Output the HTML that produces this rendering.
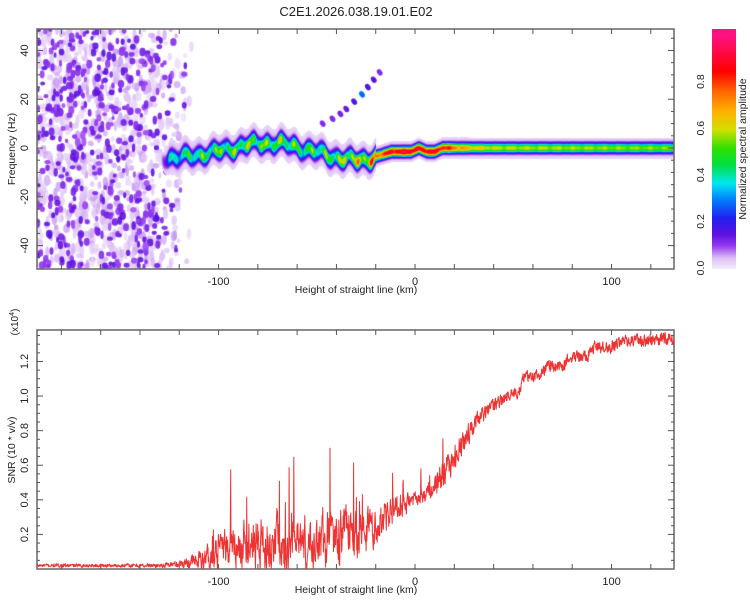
<!DOCTYPE html>
<html><head><meta charset="utf-8">
<style>
html,body{margin:0;padding:0;background:#fff;width:750px;height:600px;overflow:hidden;font-family:"Liberation Sans",sans-serif}
#wrap{position:relative;width:750px;height:600px}
canvas{position:absolute}
svg{position:absolute;left:0;top:0}
</style></head>
<body>
<div id="wrap">
<canvas id="spec" width="637" height="240" style="left:37px;top:29px"></canvas>
<canvas id="cbar" width="24" height="240" style="left:712px;top:29px"></canvas>
<svg id="svg" width="750" height="600"></svg>
</div>
<script>
// ---- data ----
const ridgeKm   = [-128,-120,-112,-105,-98,-90,-84,-78,-72,-66,-60,-54,-48,-42,-36,-30,-24,-18,-12,-6,-2,2,6,10,14,20,30,40,80,131];
const ridgeHz   = [-4,-4,-3,-2,-1,0.5,1.5,2,2,1.5,0.5,-1,-2,-3.5,-4.5,-5,-4.5,-3,-1.5,-1.5,-1.5,0,-1.5,-1.5,0,0,0,0,0,0];
const ridgeAmp  = [0.25,0.35,0.4,0.42,0.45,0.45,0.47,0.45,0.47,0.45,0.43,0.42,0.42,0.45,0.5,0.55,0.6,0.72,0.82,0.85,0.88,0.8,0.86,0.82,0.8,0.7,0.58,0.54,0.52,0.5];
const streakKm  = [-47,-42,-38,-35,-31,-27,-24,-21,-18];
const streakHz  = [10,12,14,16,19,22,25,28,31];
const streakAmp = [0.12,0.12,0.13,0.14,0.17,0.28,0.17,0.15,0.12];
const snrKm  = [-192,-160,-130,-120,-110,-105,-100,-95,-90,-85,-80,-75,-70,-65,-60,-50,-40,-30,-19,-8,0,8,13,21,31,42,47,53,55,63,67,75,79,88,91,100,103,115,131];
const snrVal = [0.02,0.02,0.02,0.03,0.05,0.07,0.1,0.11,0.12,0.14,0.16,0.14,0.13,0.11,0.11,0.15,0.18,0.22,0.27,0.36,0.39,0.45,0.53,0.65,0.86,0.96,1.0,1.02,1.11,1.12,1.17,1.17,1.23,1.23,1.28,1.28,1.31,1.32,1.33];
const snrNoise=[0.01,0.01,0.012,0.02,0.05,0.08,0.1,0.12,0.14,0.15,0.16,0.16,0.16,0.15,0.15,0.15,0.16,0.14,0.12,0.07,0.04,0.06,0.08,0.08,0.05,0.035,0.035,0.035,0.035,0.035,0.035,0.035,0.035,0.035,0.035,0.035,0.035,0.035,0.035];
const xTicks=[-100,0,100];
const fTicks=[-40,-20,0,20,40];
const sTicks=[0.2,0.4,0.6,0.8,1.0,1.2];
const cTicks=[0.0,0.2,0.4,0.6,0.8];

// ---- scales ----
const X0=37,X1=674,xMin=-192.4,xMax=131.8;
const T0=29,T1=269,fMin=-49.6,fMax=48.8;
const B0=330,B1=569,sMin=0,sMax=1.382;
const xs=v=>X0+(v-xMin)/(xMax-xMin)*(X1-X0);
const fy=v=>T1-(v-fMin)/(fMax-fMin)*(T1-T0);
const sy=v=>B1-(v-sMin)/(sMax-sMin)*(B1-B0);
function interp(xa,ya,x){if(x<=xa[0])return ya[0];for(let i=1;i<xa.length;i++){if(x<=xa[i]){const t=(x-xa[i-1])/(xa[i]-xa[i-1]);return ya[i-1]+t*(ya[i]-ya[i-1]);}}return ya[ya.length-1];}
let seed=12345;function rnd(){seed=(seed*1664525+1013904223)>>>0;return seed/4294967296;}

const stops=[[0,[246,240,252]],[0.05,[220,190,246]],[0.1,[150,60,240]],[0.15,[96,16,224]],[0.22,[32,32,240]],[0.3,[0,128,255]],[0.37,[0,232,240]],[0.45,[0,224,64]],[0.52,[48,224,0]],[0.6,[210,224,0]],[0.68,[255,176,0]],[0.77,[255,96,0]],[0.85,[255,0,0]],[1.0,[255,16,128]]];
function cmap(v){v=Math.max(0,Math.min(1,v));for(let i=1;i<stops.length;i++){if(v<=stops[i][0]){const a=stops[i-1],b=stops[i],t=(v-a[0])/(b[0]-a[0]);return a[1].map((c,k)=>Math.round(c+t*(b[1][k]-c)));}}return stops[stops.length-1][1];}

// ---- spectrogram ----
const sc=document.getElementById('spec').getContext('2d');
for(let pass=0;pass<2;pass++){
 const N=pass==0?1000:500;
 for(let i=0;i<N;i++){
  const km=xMin+rnd()*((-112)-xMin);
  const fade=km<-135?1:Math.max(0,1-(km+135)/22);
  if(rnd()>fade)continue;
  const hz=fMin+rnd()*(fMax-fMin);
  if(pass==0){
    const c=cmap(0.02+rnd()*0.05);
    sc.fillStyle=`rgba(${c[0]},${c[1]},${c[2]},0.75)`;
    sc.beginPath();sc.ellipse(xs(km)-X0,fy(hz)-T0,1.5+rnd()*2,2+rnd()*4,0,0,Math.PI*2);sc.fill();
  }else{
    const c=cmap(0.09+rnd()*0.07);
    sc.fillStyle=`rgba(${c[0]},${c[1]},${c[2]},0.9)`;
    sc.beginPath();sc.ellipse(xs(km)-X0,fy(hz)-T0,1.5+rnd()*1.8,2+rnd()*2.5,0,0,Math.PI*2);sc.fill();
  }
 }
}
for(let i=0;i<streakKm.length;i++){
  const c=cmap(streakAmp[i]);sc.fillStyle=`rgb(${c})`;
  sc.beginPath();sc.ellipse(xs(streakKm[i])-X0,fy(streakHz[i])-T0,2.5,3.5,-0.6,0,Math.PI*2);sc.fill();
}
// ridge
const off=document.createElement('canvas');off.width=637;off.height=240;
const oc=off.getContext('2d');const img=oc.createImageData(637,240);
for(let px=0;px<637;px++){
  const km=xMin+(px+0.5)/637*(xMax-xMin);
  if(km<-130)continue;
  const c0=interp(ridgeKm,ridgeHz,km);
  let A=interp(ridgeKm,ridgeAmp,km);
  const early=km<-20;
  const sig=early?2.8:1.9;
  const jig=early?1.2*Math.sin(km*0.9)+0.8*Math.sin(km*0.37+1):0;
  const mod=1+(early?0.22:0.05)*Math.sin(km*0.8)+(early?0.14:0.03)*Math.sin(km*1.9);
  const start=km<-125?Math.max(0,(km+130)/5):1;
  for(let py=0;py<240;py++){
    const hz=fMax-(py+0.5)/240*(fMax-fMin);
    const d=hz-c0-jig;
    let v=A*mod*start*Math.exp(-Math.pow(Math.abs(d)/sig,2.4))+0.055*start*Math.exp(-Math.pow(d/(early?8:4.8),2));
    if(v<0.025)continue;
    const col=cmap(v),k=(py*637+px)*4;
    img.data[k]=col[0];img.data[k+1]=col[1];img.data[k+2]=col[2];img.data[k+3]=255;
  }
}
oc.putImageData(img,0,0);sc.drawImage(off,0,0);

// colorbar
const cb=document.getElementById('cbar').getContext('2d');
for(let py=0;py<240;py++){const v=(269-(T0+py))/233;const c=cmap(v);cb.fillStyle=`rgb(${c})`;cb.fillRect(0,py,24,1);}

// ---- SVG ----
const NS='http://www.w3.org/2000/svg',svg=document.getElementById('svg');
function el(t,a,p){const e=document.createElementNS(NS,t);for(const k in a)e.setAttribute(k,a[k]);(p||svg).appendChild(e);return e;}
function txt(s,x,y,a){const e=el('text',Object.assign({x:x,y:y,'font-size':11,fill:'#222','font-family':'Liberation Sans, sans-serif'},a||{}));e.textContent=s;return e;}

let t=txt('C2E1.2026.038.19.01.E02',356,16,{'font-size':13,'text-anchor':'middle'});


function frame(y0,y1,name){
  const g=el('g',{});
  el('rect',{x:X0,y:y0,width:X1-X0,height:y1-y0,fill:'none',stroke:'#666','stroke-width':1.5},g);
  for(let v=-180;v<=120;v+=20){const x=xs(v);el('line',{x1:x,x2:x,y1:y1,y2:y1-5,stroke:'#555'},g);el('line',{x1:x,x2:x,y1:y0,y2:y0+5,stroke:'#555'},g);}
  return g;
}
const gt=frame(T0,T1,'top-plot-frame');
for(let v=-45;v<=45;v+=5){const y=fy(v),L=v%20==0?6:3;el('line',{x1:X0,x2:X0+L,y1:y,y2:y,stroke:'#555'},gt);el('line',{x1:X1,x2:X1-L,y1:y,y2:y,stroke:'#555'},gt);}
fTicks.forEach(v=>{const e=txt(String(v),28,fy(v),{'text-anchor':'middle',transform:`rotate(-90 28 ${fy(v)})`});});
const gb=frame(B0,B1,'bottom-plot-frame');
for(let v=0.05;v<1.38;v+=0.05){const y=sy(v),L=Math.abs(v*5-Math.round(v*5))<0.01?6:3;el('line',{x1:X0,x2:X0+L,y1:y,y2:y,stroke:'#555'},gb);el('line',{x1:X1,x2:X1-L,y1:y,y2:y,stroke:'#555'},gb);}
sTicks.forEach(v=>{const e=txt(v.toFixed(1),28,sy(v),{'text-anchor':'middle',transform:`rotate(-90 28 ${sy(v)})`});});
xTicks.forEach(v=>{[285,585].forEach(y=>{const e=txt(String(v),xs(v),y,{'text-anchor':'middle'});});});
[293,593].forEach(y=>{const e=txt('Height of straight line (km)',356,y,{'text-anchor':'middle','font-size':10.5});});
t=txt('Frequency (Hz)',15,149,{'text-anchor':'middle','font-size':10.5,transform:'rotate(-90 15 149)'});
t=txt('SNR (10 * v/v)',15,450,{'text-anchor':'middle','font-size':10.5,transform:'rotate(-90 15 450)'});
t=el('text',{x:18,y:322,'font-size':10,fill:'#222','text-anchor':'middle','font-family':'Liberation Sans, sans-serif',transform:'rotate(-90 18 322)'});t.innerHTML='(x10<tspan font-size="7" dy="-4">4</tspan><tspan dy="4">)</tspan>';


const cbY=v=>268-v*233;
cTicks.forEach(v=>{const e=txt(v.toFixed(1),704,cbY(v),{'text-anchor':'middle','font-size':10.5,transform:`rotate(-90 704 ${cbY(v)})`});});
t=txt('Normalized spectral amplitude',746,149,{'text-anchor':'middle','font-size':10.5,transform:'rotate(-90 746 149)'});

// SNR line (jitter texture around data envelope)
let d='';seed=777;let prev=0;
for(let km=xMin;km<=xMax;km+=0.16){
  const base=interp(snrKm,snrVal,km),na=interp(snrKm,snrNoise,km);
  const r=(rnd()-0.5)*2;
  prev=(km>-110&&km<10)?0.6*prev+0.8*r:0.3*prev+0.9*r;
  let n=prev*na;
  if(km>-110&&km<15&&rnd()<0.02)n+=na*(1.0+rnd()*2.0);
  const v=Math.max(0.003,base+n);
  d+=(d?'L':'M')+xs(km).toFixed(1)+','+sy(v).toFixed(1);
}
const line=el('path',{d:d,fill:'none',stroke:'#ee3333','stroke-width':1,'stroke-linejoin':'round'});

</script>
</body></html>
